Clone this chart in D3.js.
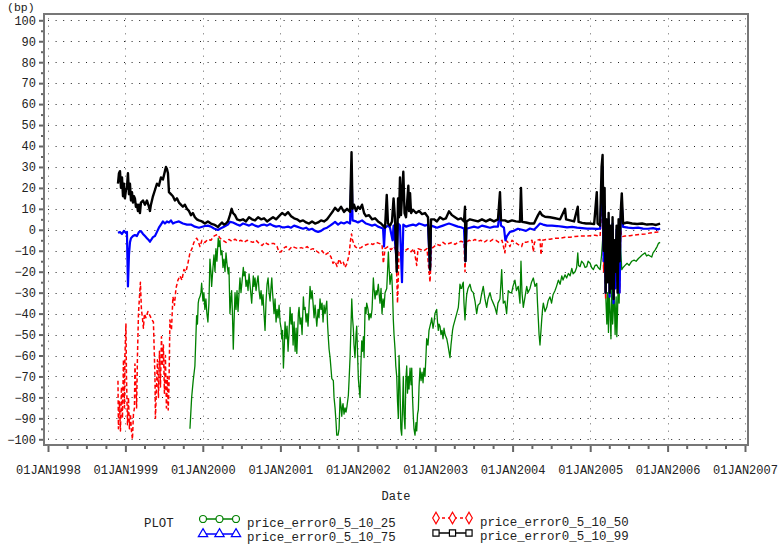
<!DOCTYPE html>
<html>
<head>
<meta charset="utf-8">
<script src="https://cdn.jsdelivr.net/npm/d3@7"></script>
<style>
  body { margin: 0; background: #fff; }
  svg text { font-family: "Liberation Mono", "DejaVu Sans Mono", monospace; fill: #222; }
</style>
</head>
<body>
<script>
// pricing error series, [decimal year, bp]
const err25 = [[1999.834,-95],[1999.856,-80],[1999.876,-72],[1999.898,-65],[1999.911,-51],[1999.920,-41],[1999.931,-45],[1999.941,-35],[1999.950,-33],[1999.963,-32],[1999.976,-30],[1999.985,-25.5],
  [2000.002,-34],[2000.014,-30],[2000.027,-38],[2000.040,-33],[2000.053,-40],[2000.066,-44],[2000.079,-35],[2000.092,-14],[2000.105,-20],[2000.114,-27],[2000.131,-18],[2000.144,-12],[2000.157,-20],[2000.169,-9],[2000.182,-15],[2000.199,-4],[2000.208,-8],[2000.221,-5],[2000.234,-12],[2000.247,-10],[2000.260,-18],[2000.273,-14],[2000.286,-20],[2000.299,-11],[2000.311,-16],[2000.328,-21],[2000.337,-18],[2000.350,-40],[2000.363,-32],[2000.372,-29],[2000.382,-40],[2000.393,-57],[2000.402,-45],[2000.415,-30],[2000.428,-38],[2000.441,-29],[2000.454,-39],[2000.466,-31],[2000.479,-23],[2000.492,-30],[2000.505,-25],[2000.522,-18],[2000.531,-22],[2000.544,-20],[2000.557,-27],[2000.570,-24],[2000.583,-29],[2000.596,-21],[2000.608,-26],[2000.630,-35],[2000.641,-28],[2000.651,-22],[2000.660,-27],[2000.673,-23],[2000.686,-29],[2000.699,-25],[2000.712,-22],[2000.725,-29],[2000.738,-33],[2000.751,-29],[2000.763,-36],[2000.776,-31],[2000.789,-40],[2000.802,-48],[2000.815,-34],[2000.828,-26],[2000.841,-23],[2000.854,-30],[2000.867,-34],[2000.880,-27],[2000.889,-23],[2000.899,-30],[2000.909,-35],[2000.918,-40],[2000.931,-33],[2000.944,-44],[2000.957,-38],[2000.970,-42],[2000.983,-36],[2000.996,-44],
  [2001.009,-47],[2001.018,-52],[2001.028,-48],[2001.039,-66],[2001.048,-58],[2001.060,-44],[2001.073,-52],[2001.086,-46],[2001.099,-58],[2001.112,-49],[2001.125,-37],[2001.138,-45],[2001.151,-40],[2001.164,-55],[2001.177,-44],[2001.190,-58],[2001.203,-47],[2001.212,-59],[2001.222,-50],[2001.232,-40],[2001.241,-37],[2001.254,-45],[2001.267,-42],[2001.280,-50],[2001.297,-32],[2001.306,-38],[2001.319,-37],[2001.332,-44],[2001.345,-40],[2001.357,-46],[2001.370,-37],[2001.383,-27],[2001.396,-33],[2001.409,-29],[2001.422,-35],[2001.435,-42],[2001.448,-36],[2001.470,-46],[2001.487,-38],[2001.499,-42],[2001.512,-33],[2001.525,-38],[2001.538,-35],[2001.551,-44],[2001.564,-36],[2001.577,-40],[2001.599,-34],[2001.609,-45],[2001.620,-52],[2001.629,-57],[2001.642,-61],[2001.664,-71],[2001.684,-72],[2001.693,-80],[2001.706,-85],[2001.719,-92],[2001.728,-98],[2001.745,-98],[2001.758,-95],[2001.771,-80],[2001.784,-85],[2001.793,-89],[2001.803,-84],[2001.809,-83],[2001.822,-88],[2001.835,-85],[2001.848,-87],[2001.861,-84],[2001.878,-79],[2001.887,-72],[2001.900,-61],[2001.922,-33],[2001.932,-42],[2001.942,-47],[2001.951,-55],[2001.964,-61],[2001.977,-50],[2001.986,-46],[2001.996,-58],
  [2002.007,-71],[2002.016,-75],[2002.029,-80],[2002.042,-62],[2002.051,-53],[2002.061,-58],[2002.072,-51],[2002.081,-61],[2002.094,-37],[2002.106,-40],[2002.115,-35],[2002.132,-38],[2002.145,-43],[2002.158,-40],[2002.171,-42],[2002.184,-38],[2002.201,-23],[2002.210,-28],[2002.223,-33],[2002.236,-29],[2002.248,-31],[2002.265,-26],[2002.274,-30],[2002.287,-35],[2002.300,-28],[2002.313,-40],[2002.326,-33],[2002.339,-37],[2002.352,-30],[2002.374,-28],[2002.384,-20],[2002.395,-10.6],[2002.404,-18],[2002.416,-26],[2002.429,-22],[2002.438,-21],[2002.449,-30],[2002.459,-43],[2002.468,-50],[2002.481,-57],[2002.491,-65],[2002.503,-70],[2002.513,-82],[2002.524,-90],[2002.533,-60],[2002.545,-75],[2002.556,-95],[2002.567,-98],[2002.578,-85],[2002.588,-70],[2002.597,-88],[2002.610,-95],[2002.620,-72],[2002.632,-65],[2002.642,-78],[2002.653,-70],[2002.662,-76],[2002.675,-66],[2002.688,-74],[2002.697,-66],[2002.707,-80],[2002.717,-89],[2002.726,-95],[2002.739,-98],[2002.752,-92],[2002.761,-96],[2002.772,-88],[2002.782,-86],[2002.791,-75],[2002.804,-66],[2002.817,-72],[2002.830,-68],[2002.843,-73],[2002.855,-66],[2002.868,-70],[2002.881,-60],[2002.890,-52],[2002.907,-55],[2002.920,-48],[2002.933,-46],[2002.946,-44],[2002.955,-42],[2002.972,-47],[2002.985,-44],[2002.997,-40],
  [2003.019,-38],[2003.030,-44],[2003.040,-48],[2003.049,-45],[2003.062,-46],[2003.075,-50],[2003.088,-48],[2003.101,-52],[2003.114,-47],[2003.127,-50],[2003.149,-52],[2003.165,-55],[2003.178,-58],[2003.191,-61],[2003.204,-55],[2003.213,-52],[2003.224,-48],[2003.234,-46],[2003.256,-43],[2003.278,-40],[2003.299,-37],[2003.308,-33],[2003.320,-26],[2003.333,-28],[2003.342,-28],[2003.353,-26],[2003.363,-25],[2003.372,-35],[2003.385,-43],[2003.398,-35],[2003.407,-31],[2003.424,-28],[2003.449,-26],[2003.469,-29],[2003.492,-30],[2003.514,-34],[2003.536,-40],[2003.553,-36],[2003.579,-35],[2003.598,-31],[2003.621,-27],[2003.643,-33],[2003.665,-37],[2003.682,-33],[2003.708,-30],[2003.727,-33],[2003.750,-35],[2003.772,-37],[2003.794,-40],[2003.811,-35],[2003.837,-33],[2003.850,-25],[2003.859,-19],[2003.869,-28],[2003.880,-35],[2003.901,-34],[2003.923,-40],[2003.944,-29],[2003.966,-30],[2003.988,-30],
  [2004.005,-27],[2004.030,-24],[2004.050,-29],[2004.073,-27],[2004.095,-35],[2004.108,-15],[2004.121,-30],[2004.138,-37],[2004.160,-32],[2004.182,-27],[2004.198,-30],[2004.224,-28],[2004.244,-25],[2004.267,-23],[2004.289,-27],[2004.311,-25.6],[2004.321,-35],[2004.332,-43],[2004.341,-50],[2004.353,-55],[2004.366,-48],[2004.375,-43],[2004.386,-38],[2004.396,-35],[2004.418,-39],[2004.440,-37],[2004.457,-34],[2004.482,-32],[2004.502,-35],[2004.521,-31],[2004.547,-29],[2004.566,-27],[2004.590,-24],[2004.612,-26],[2004.634,-22],[2004.650,-24],[2004.676,-21.5],[2004.696,-23],[2004.719,-20.8],[2004.741,-22],[2004.763,-18.4],[2004.780,-21],[2004.805,-20],[2004.825,-18],[2004.840,-11],[2004.850,-17],[2004.870,-17.6],[2004.889,-15],[2004.913,-16],[2004.934,-18],[2004.956,-17.6],[2004.973,-15],[2004.999,-16],
  [2005.018,-18],[2005.041,-19],[2005.063,-17],[2005.085,-16.8],[2005.102,-18],[2005.128,-19],[2005.147,-12],[2005.160,-5],[2005.170,-3],[2005.180,-15],[2005.193,-5],[2005.203,-33.6],[2005.215,-45],[2005.225,-30],[2005.236,-49],[2005.245,-29],[2005.258,-40],[2005.268,-52],[2005.280,-25.6],[2005.290,-45],[2005.301,-37],[2005.310,-30],[2005.322,-50],[2005.335,-32],[2005.344,-51],[2005.354,-38],[2005.365,-20],[2005.374,-35],[2005.387,-5],[2005.408,-19],[2005.425,-18],[2005.450,-17],[2005.477,-16],[2005.502,-17],[2005.537,-15],[2005.567,-14.5],[2005.593,-15],[2005.623,-13.7],[2005.644,-13],[2005.670,-12],[2005.709,-11],[2005.728,-12.5],[2005.752,-12],[2005.773,-12.5],[2005.795,-13],[2005.812,-11],[2005.838,-9.7],[2005.864,-8],[2005.881,-6.5],[2005.903,-6]];

const err50 = [[1998.904,-72],[1998.910,-95],[1998.923,-82],[1998.936,-96],[1998.949,-75],[1998.962,-90],[1998.975,-62],[1998.988,-85],[1998.994,-60],[1999.007,-45],[1999.014,-70],[1999.027,-93],[1999.040,-80],[1999.052,-95],[1999.065,-88],[1999.078,-96],[1999.091,-100],[1999.104,-88],[1999.117,-85],[1999.123,-64],[1999.136,-75],[1999.145,-85],[1999.156,-60],[1999.169,-40],[1999.182,-32],[1999.194,-25],[1999.207,-38],[1999.220,-42],[1999.233,-47],[1999.246,-40],[1999.265,-42],[1999.291,-39],[1999.317,-41],[1999.343,-43],[1999.362,-44],[1999.382,-70],[1999.388,-90],[1999.401,-76],[1999.414,-62],[1999.427,-80],[1999.440,-58],[1999.453,-75],[1999.466,-51],[1999.479,-65],[1999.491,-55],[1999.504,-78],[1999.517,-60],[1999.530,-85],[1999.543,-70],[1999.553,-86],[1999.563,-75],[1999.575,-43],[1999.595,-48],[1999.614,-32],[1999.634,-36],[1999.653,-28],[1999.679,-24],[1999.705,-22],[1999.730,-24],[1999.756,-19],[1999.782,-20],[1999.808,-16],[1999.834,-11],[1999.860,-9],[1999.885,-6],[1999.920,-4],[1999.937,-5],[1999.963,-8],[1999.989,-5],
  [2000.027,-6],[2000.066,-4.6],[2000.105,-5],[2000.144,-3],[2000.169,-2.5],[2000.195,-2.3],[2000.221,-4],[2000.260,-5],[2000.299,-6],[2000.337,-4.6],[2000.376,-5.5],[2000.415,-4.5],[2000.454,-5.5],[2000.492,-5],[2000.531,-6],[2000.570,-5],[2000.608,-5.5],[2000.647,-6],[2000.686,-5],[2000.725,-6.5],[2000.763,-7.5],[2000.802,-6],[2000.841,-7],[2000.880,-6.5],[2000.918,-6.5],[2000.957,-8],[2000.983,-10.7],
  [2001.009,-10.5],[2001.034,-9],[2001.073,-8],[2001.112,-9.5],[2001.151,-8],[2001.190,-8.5],[2001.228,-9],[2001.267,-8.5],[2001.306,-9],[2001.345,-8],[2001.383,-9.5],[2001.422,-9],[2001.461,-10],[2001.499,-11],[2001.538,-10],[2001.577,-12],[2001.616,-11],[2001.654,-13],[2001.680,-16],[2001.706,-15],[2001.732,-17.5],[2001.758,-14],[2001.784,-16],[2001.809,-15],[2001.835,-18],[2001.861,-16],[2001.887,-12],[2001.906,-5],[2001.919,-2],[2001.932,-5],[2001.964,-8],
  [2002.003,-9],[2002.042,-8.5],[2002.081,-7.5],[2002.119,-7],[2002.158,-6.5],[2002.197,-7],[2002.236,-6],[2002.274,-6.5],[2002.313,-7],[2002.330,-16],[2002.352,-9],[2002.390,-8],[2002.429,-9.5],[2002.468,-8],[2002.494,-10],[2002.513,-35],[2002.533,-10],[2002.571,-9],[2002.610,-10],[2002.649,-9],[2002.688,-10.5],[2002.726,-9],[2002.761,-17],[2002.778,-9],[2002.817,-9.5],[2002.855,-10],[2002.894,-9],[2002.933,-25],[2002.952,-9],[2002.985,-8],
  [2003.023,-7],[2003.062,-7.5],[2003.101,-6],[2003.139,-7],[2003.178,-6.5],[2003.217,-6],[2003.256,-7],[2003.294,-6],[2003.333,-5.5],[2003.372,-6],[2003.385,-20],[2003.398,-6],[2003.437,-5],[2003.475,-5.5],[2003.514,-4.6],[2003.553,-5.5],[2003.591,-5],[2003.630,-6],[2003.669,-5],[2003.708,-5.5],[2003.746,-4.6],[2003.785,-5],[2003.824,-6],[2003.863,-5],[2003.901,-11],[2003.914,-5],[2003.940,-6],[2003.966,-8],[2003.992,-5],
  [2004.030,-6],[2004.069,-7],[2004.117,-8],[2004.134,-6],[2004.173,-6],[2004.211,-5.5],[2004.250,-5],[2004.267,-10.5],[2004.282,-6],[2004.315,-5],[2004.353,-4.6],[2004.366,-12],[2004.386,-5],[2004.431,-4.6],[2004.482,-4.5],[2004.547,-4],[2004.612,-4],[2004.676,-3.6],[2004.741,-3.5],[2004.805,-3.2],[2004.870,-3],[2004.934,-3],[2004.999,-2.8],
  [2005.063,-2.6],[2005.128,-3],[2005.147,10],[2005.160,15],[2005.173,-20],[2005.186,-5],[2005.199,-33],[2005.212,-10],[2005.225,-25],[2005.238,0],[2005.251,-30],[2005.264,-8],[2005.277,-22],[2005.289,-2],[2005.302,-33],[2005.315,-15],[2005.328,-28],[2005.341,-5],[2005.354,-20],[2005.367,-8],[2005.380,-30],[2005.393,0],[2005.408,-3.3],[2005.450,-3],[2005.515,-2.8],[2005.580,-2.5],[2005.644,-2.2],[2005.709,-2],[2005.773,-1.5],[2005.838,-1.2],[2005.903,-1]];

const err75 = [[1998.904,-1.4],[1998.930,-1],[1998.956,-2],[1998.981,-0.5],[1999.007,-1.5],[1999.020,-1],[1999.033,-27],[1999.046,-12],[1999.059,-6],[1999.072,-4],[1999.098,-3],[1999.123,-2.5],[1999.149,-3],[1999.175,-1],[1999.201,-0.6],[1999.227,-2],[1999.253,-3],[1999.278,-4],[1999.304,-5],[1999.317,-5.7],[1999.356,-3.5],[1999.382,-3],[1999.408,-1],[1999.433,1],[1999.459,2.5],[1999.485,4],[1999.511,3],[1999.537,4],[1999.563,3.5],[1999.588,4.5],[1999.614,3],[1999.640,3.5],[1999.692,4],[1999.743,3],[1999.795,2.5],[1999.847,2.5],[1999.898,1.5],[1999.950,1],
  [2000.027,1.8],[2000.066,2],[2000.105,1.5],[2000.144,0.6],[2000.195,-0.1],[2000.221,0.5],[2000.273,1.5],[2000.324,2.5],[2000.350,3.8],[2000.389,3.5],[2000.441,2.5],[2000.479,2],[2000.518,3],[2000.557,2.5],[2000.596,2],[2000.634,2.8],[2000.673,2],[2000.712,1.5],[2000.751,2.2],[2000.789,2.5],[2000.828,2],[2000.867,2.8],[2000.905,2],[2000.944,1.5],[2000.983,1.8],
  [2001.022,1.2],[2001.060,1.2],[2001.099,1.5],[2001.138,1],[2001.177,2],[2001.215,1.5],[2001.254,1],[2001.293,0.5],[2001.332,1],[2001.370,0],[2001.409,0.5],[2001.448,-0.5],[2001.487,-1],[2001.525,-0.5],[2001.564,0.5],[2001.603,1],[2001.642,2],[2001.680,3],[2001.706,3.8],[2001.745,2.5],[2001.784,3.5],[2001.822,3],[2001.861,3.8],[2001.900,3],[2001.919,30],[2001.932,4.5],[2001.977,4],
  [2002.003,3.5],[2002.055,4.5],[2002.106,3],[2002.145,2.5],[2002.184,2],[2002.223,2.5],[2002.261,1.5],[2002.300,1],[2002.326,0.6],[2002.339,-8],[2002.352,1],[2002.390,2],[2002.416,1],[2002.449,-5],[2002.462,2],[2002.503,-15],[2002.520,3],[2002.545,2],[2002.571,-25],[2002.588,2.5],[2002.623,1.5],[2002.662,2],[2002.713,2.5],[2002.752,2],[2002.791,3],[2002.830,2.5],[2002.868,2],[2002.907,2.5],[2002.933,-19],[2002.946,2],[2002.985,1.5],
  [2003.023,1],[2003.062,1.5],[2003.101,2],[2003.139,2.5],[2003.178,3],[2003.217,2.5],[2003.256,2],[2003.294,1.5],[2003.333,1.2],[2003.372,0.6],[2003.391,-15],[2003.404,0.5],[2003.449,1],[2003.501,1.5],[2003.553,1],[2003.604,2],[2003.656,1.5],[2003.708,1],[2003.759,1.5],[2003.811,1.5],[2003.837,10],[2003.850,2],[2003.888,1],[2003.907,-5],[2003.927,-3],[2003.966,-1],
  [2004.017,-0.5],[2004.069,0.5],[2004.121,0],[2004.173,-0.5],[2004.224,0.6],[2004.276,0],[2004.315,1.5],[2004.353,3],[2004.392,2.5],[2004.444,2],[2004.508,2],[2004.573,1.8],[2004.637,1.5],[2004.702,1.2],[2004.767,1.4],[2004.831,1],[2004.896,0.8],[2004.960,0.6],
  [2005.025,0.6],[2005.089,0.4],[2005.128,0.5],[2005.147,18],[2005.160,30],[2005.173,-15],[2005.186,10],[2005.199,-30],[2005.212,0],[2005.225,-20],[2005.238,5],[2005.251,-32],[2005.264,-5],[2005.277,-25],[2005.289,3],[2005.302,-35],[2005.315,-10],[2005.328,-28],[2005.341,0],[2005.354,-20],[2005.367,2],[2005.380,-30],[2005.393,5],[2005.408,12],[2005.425,1.4],[2005.490,1],[2005.554,0.8],[2005.619,1],[2005.683,0.6],[2005.748,0.5],[2005.813,0.8],[2005.877,0.2],[2005.903,0.6]];

const err99 = [[1998.904,22],[1998.917,27],[1998.930,28],[1998.943,20],[1998.956,25],[1998.969,16],[1998.981,22],[1998.994,15],[1999.007,19],[1999.020,20],[1999.033,27],[1999.046,17],[1999.059,22],[1999.072,14],[1999.085,18],[1999.098,13],[1999.111,16],[1999.123,15],[1999.136,11],[1999.149,12],[1999.162,9],[1999.175,12],[1999.188,8],[1999.201,13],[1999.227,14],[1999.253,12],[1999.278,14],[1999.304,11],[1999.317,9],[1999.330,12],[1999.356,16],[1999.382,19],[1999.408,22],[1999.433,21],[1999.459,25],[1999.485,24],[1999.511,28],[1999.524,30],[1999.537,29],[1999.550,27],[1999.563,18],[1999.588,17],[1999.614,16],[1999.640,14],[1999.666,15],[1999.692,13],[1999.717,12],[1999.743,11],[1999.769,12],[1999.795,10],[1999.821,9],[1999.847,7],[1999.872,8],[1999.898,6],[1999.924,5],[1999.950,4.5],[1999.989,4],
  [2000.027,3],[2000.066,4],[2000.105,3],[2000.144,2.5],[2000.169,2],[2000.195,1.3],[2000.221,2.5],[2000.247,3.5],[2000.273,2.5],[2000.299,3],[2000.324,4],[2000.350,7],[2000.372,10],[2000.389,8],[2000.415,7],[2000.441,5],[2000.479,4.5],[2000.518,5],[2000.557,4],[2000.596,6],[2000.634,5],[2000.673,4.5],[2000.712,6],[2000.751,5],[2000.789,5.5],[2000.828,4],[2000.867,5],[2000.905,6],[2000.944,5],[2000.983,6.5],
  [2001.022,8],[2001.060,7],[2001.099,8.4],[2001.138,6.5],[2001.177,5.5],[2001.215,5],[2001.254,4],[2001.293,4.5],[2001.332,3.5],[2001.370,3],[2001.409,4],[2001.448,3],[2001.487,3.5],[2001.525,4.5],[2001.564,4],[2001.603,5],[2001.642,7],[2001.680,9],[2001.706,10.5],[2001.745,9],[2001.784,11],[2001.822,8.5],[2001.861,10],[2001.887,9],[2001.900,8.6],[2001.919,37],[2001.932,10],[2001.951,12],[2001.977,9],
  [2002.003,11],[2002.029,10],[2002.055,12],[2002.081,8],[2002.106,6.5],[2002.145,7],[2002.184,5],[2002.223,5.5],[2002.261,4],[2002.300,3],[2002.326,2],[2002.352,1],[2002.374,16.6],[2002.390,3],[2002.416,2],[2002.442,4],[2002.462,15],[2002.481,5],[2002.503,-20],[2002.520,15],[2002.533,6],[2002.545,25],[2002.558,7],[2002.588,27.7],[2002.604,8],[2002.623,6],[2002.653,21],[2002.662,9],[2002.675,17.5],[2002.688,8],[2002.713,9.6],[2002.752,8],[2002.791,9],[2002.830,7.5],[2002.868,8],[2002.907,6],[2002.933,-19],[2002.946,5],[2002.985,5],
  [2003.023,4],[2003.062,6],[2003.101,5],[2003.139,5.5],[2003.178,8.8],[2003.217,7],[2003.256,6],[2003.294,5],[2003.333,5.5],[2003.372,4],[2003.385,11],[2003.391,-15],[2003.404,4],[2003.449,5],[2003.501,4.5],[2003.553,4],[2003.604,5],[2003.656,4],[2003.708,5],[2003.759,4],[2003.811,5],[2003.837,18],[2003.850,4.5],[2003.901,4.5],[2003.940,3.8],[2003.992,4.5],
  [2004.043,4],[2004.095,3.8],[2004.108,20],[2004.121,3.8],[2004.173,3.5],[2004.224,3],[2004.276,3],[2004.302,5],[2004.328,7],[2004.353,8.6],[2004.379,7],[2004.418,6.2],[2004.482,6],[2004.547,5.5],[2004.612,5],[2004.676,10],[2004.689,5],[2004.741,4.5],[2004.792,4],[2004.840,11],[2004.850,3.8],[2004.896,3.3],[2004.947,3],[2004.999,3],
  [2005.051,2.7],[2005.085,18],[2005.096,3],[2005.128,2],[2005.147,30],[2005.160,35.7],[2005.173,-10],[2005.186,20],[2005.199,-30],[2005.212,5],[2005.225,-25],[2005.238,8],[2005.251,-30],[2005.264,2],[2005.277,-28],[2005.289,6],[2005.302,-33],[2005.315,-5],[2005.328,-20],[2005.341,2],[2005.354,-30],[2005.367,5],[2005.380,-15],[2005.393,8],[2005.408,17.4],[2005.425,3],[2005.477,3.5],[2005.541,3],[2005.606,2.8],[2005.670,3],[2005.735,2.5],[2005.800,2.7],[2005.851,2.3],[2005.903,3]];

const yearTicks = [1998, 1999, 2000, 2001, 2002, 2003, 2004, 2005, 2006, 2007];
const yTicks = [-100, -90, -80, -70, -60, -50, -40, -30, -20, -10, 0, 10, 20, 30, 40, 50, 60, 70, 80, 90, 100];
const seriesNames = ["price_error0_5_10_25", "price_error0_5_10_50", "price_error0_5_10_75", "price_error0_5_10_99"];

const width = 778, height = 548;
const frame = { left: 44, right: 748, top: 14, bottom: 445 };

const svg = d3.select("body").append("svg")
  .attr("width", width)
  .attr("height", height)
  .style("background", "#fff");

// decimal year -> Date
function toDate(t) {
  const yr = Math.floor(t);
  const a = new Date(yr, 0, 1), b = new Date(yr + 1, 0, 1);
  return new Date(+a + (t - yr) * (b - a));
}

const x = d3.scaleTime()
  .domain([new Date(1998, 0, 1), new Date(2007, 0, 1)])
  .range([48, 745]);
const y = d3.scaleLinear().domain([-100, 100]).range([439.3, 20.3]);

// dotted grid
svg.append("g").selectAll("line")
  .data(yTicks).enter().append("line")
  .attr("x1", 48).attr("x2", 745)
  .attr("y1", d => Math.round(y(d)) + 0.5).attr("y2", d => Math.round(y(d)) + 0.5)
  .attr("stroke", "#222").attr("stroke-dasharray", "1,6.6");

svg.append("g").selectAll("line")
  .data(yearTicks).enter().append("line")
  .attr("x1", d => Math.round(x(new Date(d, 0, 1))) + 0.5)
  .attr("x2", d => Math.round(x(new Date(d, 0, 1))) + 0.5)
  .attr("y1", 18).attr("y2", 442)
  .attr("stroke", "#999").attr("stroke-dasharray", "1.5,6");

// series lines
const line = d3.line()
  .x(d => x(toDate(d[0])))
  .y(d => y(d[1]));

const series = [
  { data: err25, color: "#008000", width: 1.3, dash: null },
  { data: err50, color: "#ff0000", width: 1.5, dash: "4,2.5" },
  { data: err75, color: "#0000ff", width: 2.2, dash: null },
  { data: err99, color: "#000000", width: 2.4, dash: null }
];

svg.append("g").selectAll("path")
  .data(series).enter().append("path")
  .attr("d", d => line(d.data))
  .attr("fill", "none")
  .attr("stroke", d => d.color)
  .attr("stroke-width", d => d.width)
  .attr("stroke-dasharray", d => d.dash)
  .attr("stroke-linejoin", "round");

// axes
const xAxis = svg.append("g")
  .attr("transform", "translate(0," + frame.bottom + ")")
  .call(d3.axisBottom(x)
    .tickValues(yearTicks.map(d => new Date(d, 0, 1)))
    .tickSize(7).tickPadding(13)
    .tickFormat(d => d3.timeFormat("%d%b%Y")(d).toUpperCase()));

const xMinor = svg.append("g")
  .attr("transform", "translate(0," + frame.bottom + ")")
  .call(d3.axisBottom(x)
    .tickValues(d3.timeMonth.every(3).range(new Date(1998, 0, 1), new Date(2007, 0, 2))
      .filter(d => d.getMonth() !== 0))
    .tickSize(4).tickFormat(""));

const yAxis = svg.append("g")
  .attr("transform", "translate(" + frame.left + ",0)")
  .call(d3.axisLeft(y).tickValues(yTicks).tickSize(5).tickPadding(3));

const yMinor = svg.append("g")
  .attr("transform", "translate(" + frame.left + ",0)")
  .call(d3.axisLeft(y).tickValues(yTicks.slice(1).map(d => d - 5)).tickSize(3).tickFormat(""));

[xAxis, xMinor, yAxis, yMinor].forEach(g => {
  g.select(".domain").remove();
  g.selectAll(".tick line").attr("stroke", "#666").attr("stroke-width", 2);
  g.selectAll("text").attr("font-size", 12).attr("fill", "#222")
    .attr("font-family", "'Liberation Mono', 'DejaVu Sans Mono', monospace");
});

// frame
svg.append("rect")
  .attr("x", frame.left).attr("y", frame.top)
  .attr("width", frame.right - frame.left).attr("height", frame.bottom - frame.top)
  .attr("fill", "none").attr("stroke", "#777").attr("stroke-width", 2);

svg.append("text").attr("x", 7).attr("y", 11).attr("font-size", 11.5).text("(bp)");
svg.append("text").attr("x", (frame.left + frame.right) / 2).attr("y", 500)
  .attr("text-anchor", "middle").attr("font-size", 12).text("Date");

// legend
svg.append("text").attr("x", 144).attr("y", 527).attr("font-size", 12.4).text("PLOT");

const legendItems = [
  { name: seriesNames[0], color: "#008000", marker: d3.symbolCircle, dash: null, lx: 200, ly: 519 },
  { name: seriesNames[2], color: "#0000ff", marker: d3.symbolTriangle, dash: null, lx: 200, ly: 534 },
  { name: seriesNames[1], color: "#ff0000", marker: d3.symbolDiamond, dash: "3,3", lx: 433, ly: 518 },
  { name: seriesNames[3], color: "#000000", marker: d3.symbolSquare, dash: null, lx: 433, ly: 533 }
];

const leg = svg.append("g").selectAll("g")
  .data(legendItems).enter().append("g")
  .attr("transform", d => "translate(" + d.lx + "," + d.ly + ")");

leg.append("line")
  .attr("x1", 3).attr("x2", 36).attr("y1", 0).attr("y2", 0)
  .attr("stroke", d => d.color).attr("stroke-width", 1.3)
  .attr("stroke-dasharray", d => d.dash);

leg.selectAll("path")
  .data(d => [3, 19.5, 36].map(p => ({ p: p, item: d })))
  .enter().append("path")
  .attr("transform", d => "translate(" + d.p + ",0)")
  .attr("d", d => d3.symbol().type(d.item.marker).size(38)())
  .attr("fill", "#fff")
  .attr("stroke", d => d.item.color)
  .attr("stroke-width", 1.2);

leg.append("text")
  .attr("x", 47).attr("y", d => d.ly < 525 ? 8 : 7)
  .attr("font-size", 12.4)
  .text(d => d.name);
</script>
</body>
</html>
